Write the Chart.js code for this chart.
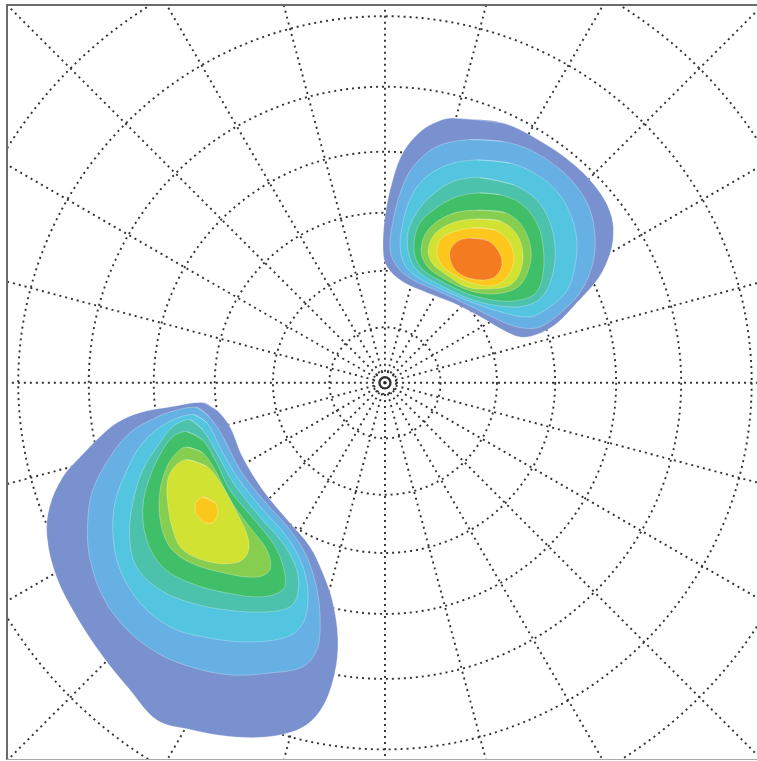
<!DOCTYPE html>
<html>
<head>
<meta charset="utf-8">
<script src="https://cdn.jsdelivr.net/npm/chart.js@4"></script>
<style>
  html, body { margin: 0; padding: 0; background: #fff; overflow: hidden; }
  #wrap { position: absolute; left: 0; top: 0; width: 770px; height: 761px; }
</style>
</head>
<body>
<div id="wrap"><canvas id="pole" width="770" height="761"></canvas></div>
<script>
// Pole figure, stereographic projection: the equator (tilt 90°) sits at radius 1.
const tiltCircles = [1, 2, 10, 20, 30, 40, 50, 60, 70, 80];          // degrees
const azimuthLines = [0, 15, 30, 45, 60, 75, 90, 105, 120, 135, 150, 165,
                      180, 195, 210, 225, 240, 255, 270, 285, 300, 315, 330, 345];

// Contour outlines [x, y] in projected coordinates, lowest level first.
// Upper-right pole cluster
const neLevel1 = [[0.107,0.417],[0.186,0.409],[0.249,0.378],[0.302,0.340],[0.339,0.299],[0.357,0.261],[0.359,0.225],[0.351,0.194],[0.334,0.162],[0.302,0.126],[0.271,0.094],[0.239,0.076],[0.213,0.072],[0.186,0.083],[0.150,0.104],[0.107,0.126],[0.066,0.142],[0.028,0.159],[0.003,0.183],[-0.003,0.209],[0.000,0.261],[0.011,0.315],[0.028,0.362],[0.055,0.395],[0.082,0.411]];
const neLevel2 = [[0.134,0.383],[0.186,0.380],[0.228,0.367],[0.271,0.340],[0.302,0.309],[0.323,0.272],[0.331,0.225],[0.326,0.183],[0.307,0.142],[0.276,0.110],[0.244,0.088],[0.213,0.087],[0.181,0.098],[0.134,0.121],[0.087,0.143],[0.044,0.162],[0.019,0.183],[0.008,0.209],[0.011,0.246],[0.024,0.299],[0.044,0.340],[0.082,0.372]];
const neLevel3 = [[0.145,0.351],[0.197,0.346],[0.239,0.328],[0.271,0.301],[0.291,0.268],[0.302,0.225],[0.299,0.183],[0.287,0.146],[0.260,0.120],[0.228,0.104],[0.181,0.112],[0.134,0.128],[0.087,0.148],[0.050,0.167],[0.031,0.186],[0.024,0.214],[0.027,0.246],[0.039,0.288],[0.060,0.320],[0.098,0.343]];
const neLevel4 = [[0.150,0.323],[0.202,0.312],[0.239,0.288],[0.260,0.252],[0.268,0.209],[0.263,0.167],[0.247,0.135],[0.220,0.121],[0.181,0.121],[0.134,0.132],[0.087,0.154],[0.055,0.173],[0.039,0.197],[0.036,0.236],[0.050,0.268],[0.071,0.293],[0.107,0.317]];
const neLevel5 = [[0.150,0.299],[0.181,0.296],[0.213,0.283],[0.239,0.252],[0.249,0.214],[0.249,0.173],[0.239,0.143],[0.216,0.131],[0.181,0.129],[0.134,0.139],[0.087,0.161],[0.058,0.180],[0.046,0.206],[0.052,0.246],[0.076,0.272],[0.113,0.293]];
const neLevel6 = [[0.145,0.272],[0.189,0.268],[0.216,0.247],[0.230,0.209],[0.225,0.175],[0.208,0.150],[0.173,0.140],[0.134,0.145],[0.091,0.165],[0.066,0.184],[0.057,0.209],[0.068,0.241],[0.102,0.265]];
const neLevel7 = [[0.143,0.258],[0.181,0.255],[0.206,0.236],[0.217,0.206],[0.213,0.175],[0.197,0.154],[0.165,0.148],[0.129,0.151],[0.094,0.172],[0.074,0.189],[0.068,0.209],[0.079,0.235],[0.107,0.252]];
const neLevel8 = [[0.137,0.244],[0.172,0.241],[0.194,0.224],[0.203,0.197],[0.195,0.170],[0.175,0.154],[0.140,0.156],[0.109,0.170],[0.088,0.187],[0.082,0.211],[0.093,0.231]];
const neLevel9 = [[0.134,0.228],[0.162,0.224],[0.181,0.203],[0.183,0.181],[0.167,0.164],[0.132,0.165],[0.109,0.180],[0.102,0.205],[0.113,0.222]];

// Lower-left pole cluster
const swLevel1 = [[-0.287,-0.031],[-0.265,-0.043],[-0.244,-0.069],[-0.224,-0.117],[-0.192,-0.169],[-0.150,-0.220],[-0.118,-0.258],[-0.098,-0.299],[-0.082,-0.346],[-0.074,-0.405],[-0.079,-0.457],[-0.098,-0.510],[-0.129,-0.542],[-0.181,-0.557],[-0.244,-0.557],[-0.307,-0.546],[-0.359,-0.531],[-0.402,-0.483],[-0.444,-0.431],[-0.485,-0.369],[-0.517,-0.306],[-0.532,-0.243],[-0.528,-0.195],[-0.507,-0.148],[-0.480,-0.117],[-0.454,-0.090],[-0.422,-0.063],[-0.386,-0.047],[-0.339,-0.038]];
const swLevel2 = [[-0.296,-0.039],[-0.276,-0.054],[-0.255,-0.085],[-0.228,-0.137],[-0.192,-0.184],[-0.150,-0.231],[-0.123,-0.274],[-0.107,-0.326],[-0.102,-0.378],[-0.107,-0.420],[-0.129,-0.447],[-0.181,-0.457],[-0.244,-0.460],[-0.307,-0.447],[-0.359,-0.425],[-0.406,-0.389],[-0.444,-0.337],[-0.465,-0.274],[-0.468,-0.220],[-0.460,-0.169],[-0.433,-0.117],[-0.402,-0.079],[-0.359,-0.054],[-0.328,-0.043]];
const swLevel3 = [[-0.302,-0.050],[-0.280,-0.063],[-0.260,-0.101],[-0.233,-0.148],[-0.192,-0.200],[-0.154,-0.243],[-0.129,-0.290],[-0.121,-0.337],[-0.129,-0.378],[-0.154,-0.400],[-0.217,-0.408],[-0.287,-0.400],[-0.339,-0.384],[-0.386,-0.346],[-0.417,-0.294],[-0.428,-0.243],[-0.425,-0.189],[-0.406,-0.137],[-0.381,-0.094],[-0.343,-0.063]];
const swLevel4 = [[-0.307,-0.058],[-0.287,-0.074],[-0.265,-0.110],[-0.239,-0.157],[-0.197,-0.211],[-0.161,-0.252],[-0.139,-0.294],[-0.137,-0.331],[-0.150,-0.353],[-0.192,-0.361],[-0.255,-0.357],[-0.307,-0.346],[-0.354,-0.326],[-0.391,-0.290],[-0.402,-0.243],[-0.397,-0.189],[-0.381,-0.137],[-0.354,-0.094],[-0.334,-0.069]];
const swLevel5 = [[-0.312,-0.077],[-0.287,-0.090],[-0.265,-0.126],[-0.244,-0.169],[-0.202,-0.220],[-0.170,-0.263],[-0.157,-0.306],[-0.161,-0.326],[-0.192,-0.337],[-0.249,-0.331],[-0.307,-0.315],[-0.350,-0.290],[-0.375,-0.247],[-0.381,-0.195],[-0.370,-0.148],[-0.350,-0.106],[-0.334,-0.085]];
const swLevel6 = [[-0.312,-0.101],[-0.287,-0.110],[-0.265,-0.142],[-0.244,-0.184],[-0.213,-0.227],[-0.186,-0.263],[-0.181,-0.294],[-0.202,-0.306],[-0.255,-0.299],[-0.307,-0.283],[-0.339,-0.258],[-0.354,-0.216],[-0.354,-0.169],[-0.343,-0.132],[-0.328,-0.110]];
const swLevel7 = [[-0.312,-0.121],[-0.280,-0.132],[-0.255,-0.164],[-0.233,-0.205],[-0.216,-0.243],[-0.216,-0.268],[-0.233,-0.283],[-0.276,-0.282],[-0.318,-0.263],[-0.334,-0.231],[-0.342,-0.189],[-0.342,-0.153],[-0.331,-0.132]];
const swLevel8 = [[-0.287,-0.180],[-0.268,-0.189],[-0.263,-0.205],[-0.271,-0.220],[-0.283,-0.220],[-0.296,-0.208],[-0.299,-0.192]];

const levelColours = ['#7a91d0', '#66b0e4', '#54c5e0', '#4cc2ac', '#40be68',
                      '#86ce50', '#d2e232', '#fdc81e', '#f37b20'];

const contourSets = [
  [neLevel1, swLevel1], [neLevel2, swLevel2], [neLevel3, swLevel3],
  [neLevel4, swLevel4], [neLevel5, swLevel5], [neLevel6, swLevel6],
  [neLevel7, swLevel7], [neLevel8, swLevel8], [neLevel9]
];

// Close an outline; the first two vertices are repeated so the spline joins smoothly.
function closedOutline(points) {
  const p = points.map(([x, y]) => ({ x, y }));
  return p.concat([p[0], p[1]]);
}

const datasets = [];
contourSets.forEach((outlines, level) => {
  outlines.forEach(outline => {
    datasets.push({
      data: closedOutline(outline),
      showLine: true,
      fill: 'shape',
      backgroundColor: levelColours[level],
      borderColor: 'rgba(255,255,255,0.35)',
      borderWidth: 0.8,
      pointRadius: 0,
      tension: 0.35,
      order: contourSets.length - level
    });
  });
});

// Dotted tilt circles and azimuth spokes, drawn underneath the contours.
const poleGrid = {
  id: 'poleGrid',
  beforeDatasetsDraw(chart) {
    const { ctx, chartArea: a, scales: { x, y } } = chart;
    const cx = x.getPixelForValue(0), cy = y.getPixelForValue(0);
    const kx = x.getPixelForValue(1) - cx, ky = cy - y.getPixelForValue(1);
    const proj = t => Math.tan(t * Math.PI / 360);
    ctx.save();
    ctx.beginPath();
    ctx.rect(a.left, a.top, a.right - a.left, a.bottom - a.top);
    ctx.clip();
    ctx.strokeStyle = '#333333';
    tiltCircles.forEach(t => {
      const r = proj(t);
      if (t < 2) {
        ctx.setLineDash([]);
        ctx.lineWidth = 2.4;
      } else {
        ctx.setLineDash([2, 4]);
        ctx.lineWidth = 1.9;
      }
      ctx.beginPath();
      ctx.ellipse(cx, cy, r * kx, r * ky, 0, 0, Math.PI * 2);
      ctx.stroke();
    });
    ctx.lineWidth = 1.9;
    ctx.setLineDash([2, 4]);
    const r0 = proj(tiltCircles[1]), r1 = 1.2;
    azimuthLines.forEach(az => {
      const c = Math.cos(az * Math.PI / 180), s = Math.sin(az * Math.PI / 180);
      ctx.beginPath();
      ctx.moveTo(cx + r0 * kx * c, cy - r0 * ky * s);
      ctx.lineTo(cx + r1 * kx * c, cy - r1 * ky * s);
      ctx.stroke();
    });
    ctx.setLineDash([]);
    ctx.fillStyle = '#222';
    ctx.beginPath();
    ctx.arc(cx, cy, 1.8, 0, Math.PI * 2);
    ctx.fill();
    ctx.restore();
  },
  afterDraw(chart) {
    const { ctx, chartArea: a } = chart;
    ctx.save();
    ctx.strokeStyle = '#6a6a6a';
    ctx.lineWidth = 2;
    ctx.beginPath();
    ctx.moveTo(a.left, a.bottom);
    ctx.lineTo(a.left, a.top);
    ctx.lineTo(a.right, a.top);
    ctx.stroke();
    ctx.strokeStyle = '#aaaaaa';
    ctx.lineWidth = 1;
    ctx.beginPath();
    ctx.moveTo(a.left, a.bottom - 0.5);
    ctx.lineTo(a.right, a.bottom - 0.5);
    ctx.stroke();
    ctx.restore();
  }
};

new Chart(document.getElementById('pole'), {
  type: 'scatter',
  data: { datasets },
  options: {
    responsive: false,
    animation: false,
    devicePixelRatio: 1,
    layout: { padding: { left: 7, top: 5, right: 9, bottom: 1 } },
    scales: {
      x: { type: 'linear', min: -0.595, max: 0.592, display: false },
      y: { type: 'linear', min: -0.594, max: 0.595, display: false }
    },
    plugins: { legend: { display: false }, tooltip: { enabled: false } },
    events: []
  },
  plugins: [poleGrid]
});
</script>
</body>
</html>
